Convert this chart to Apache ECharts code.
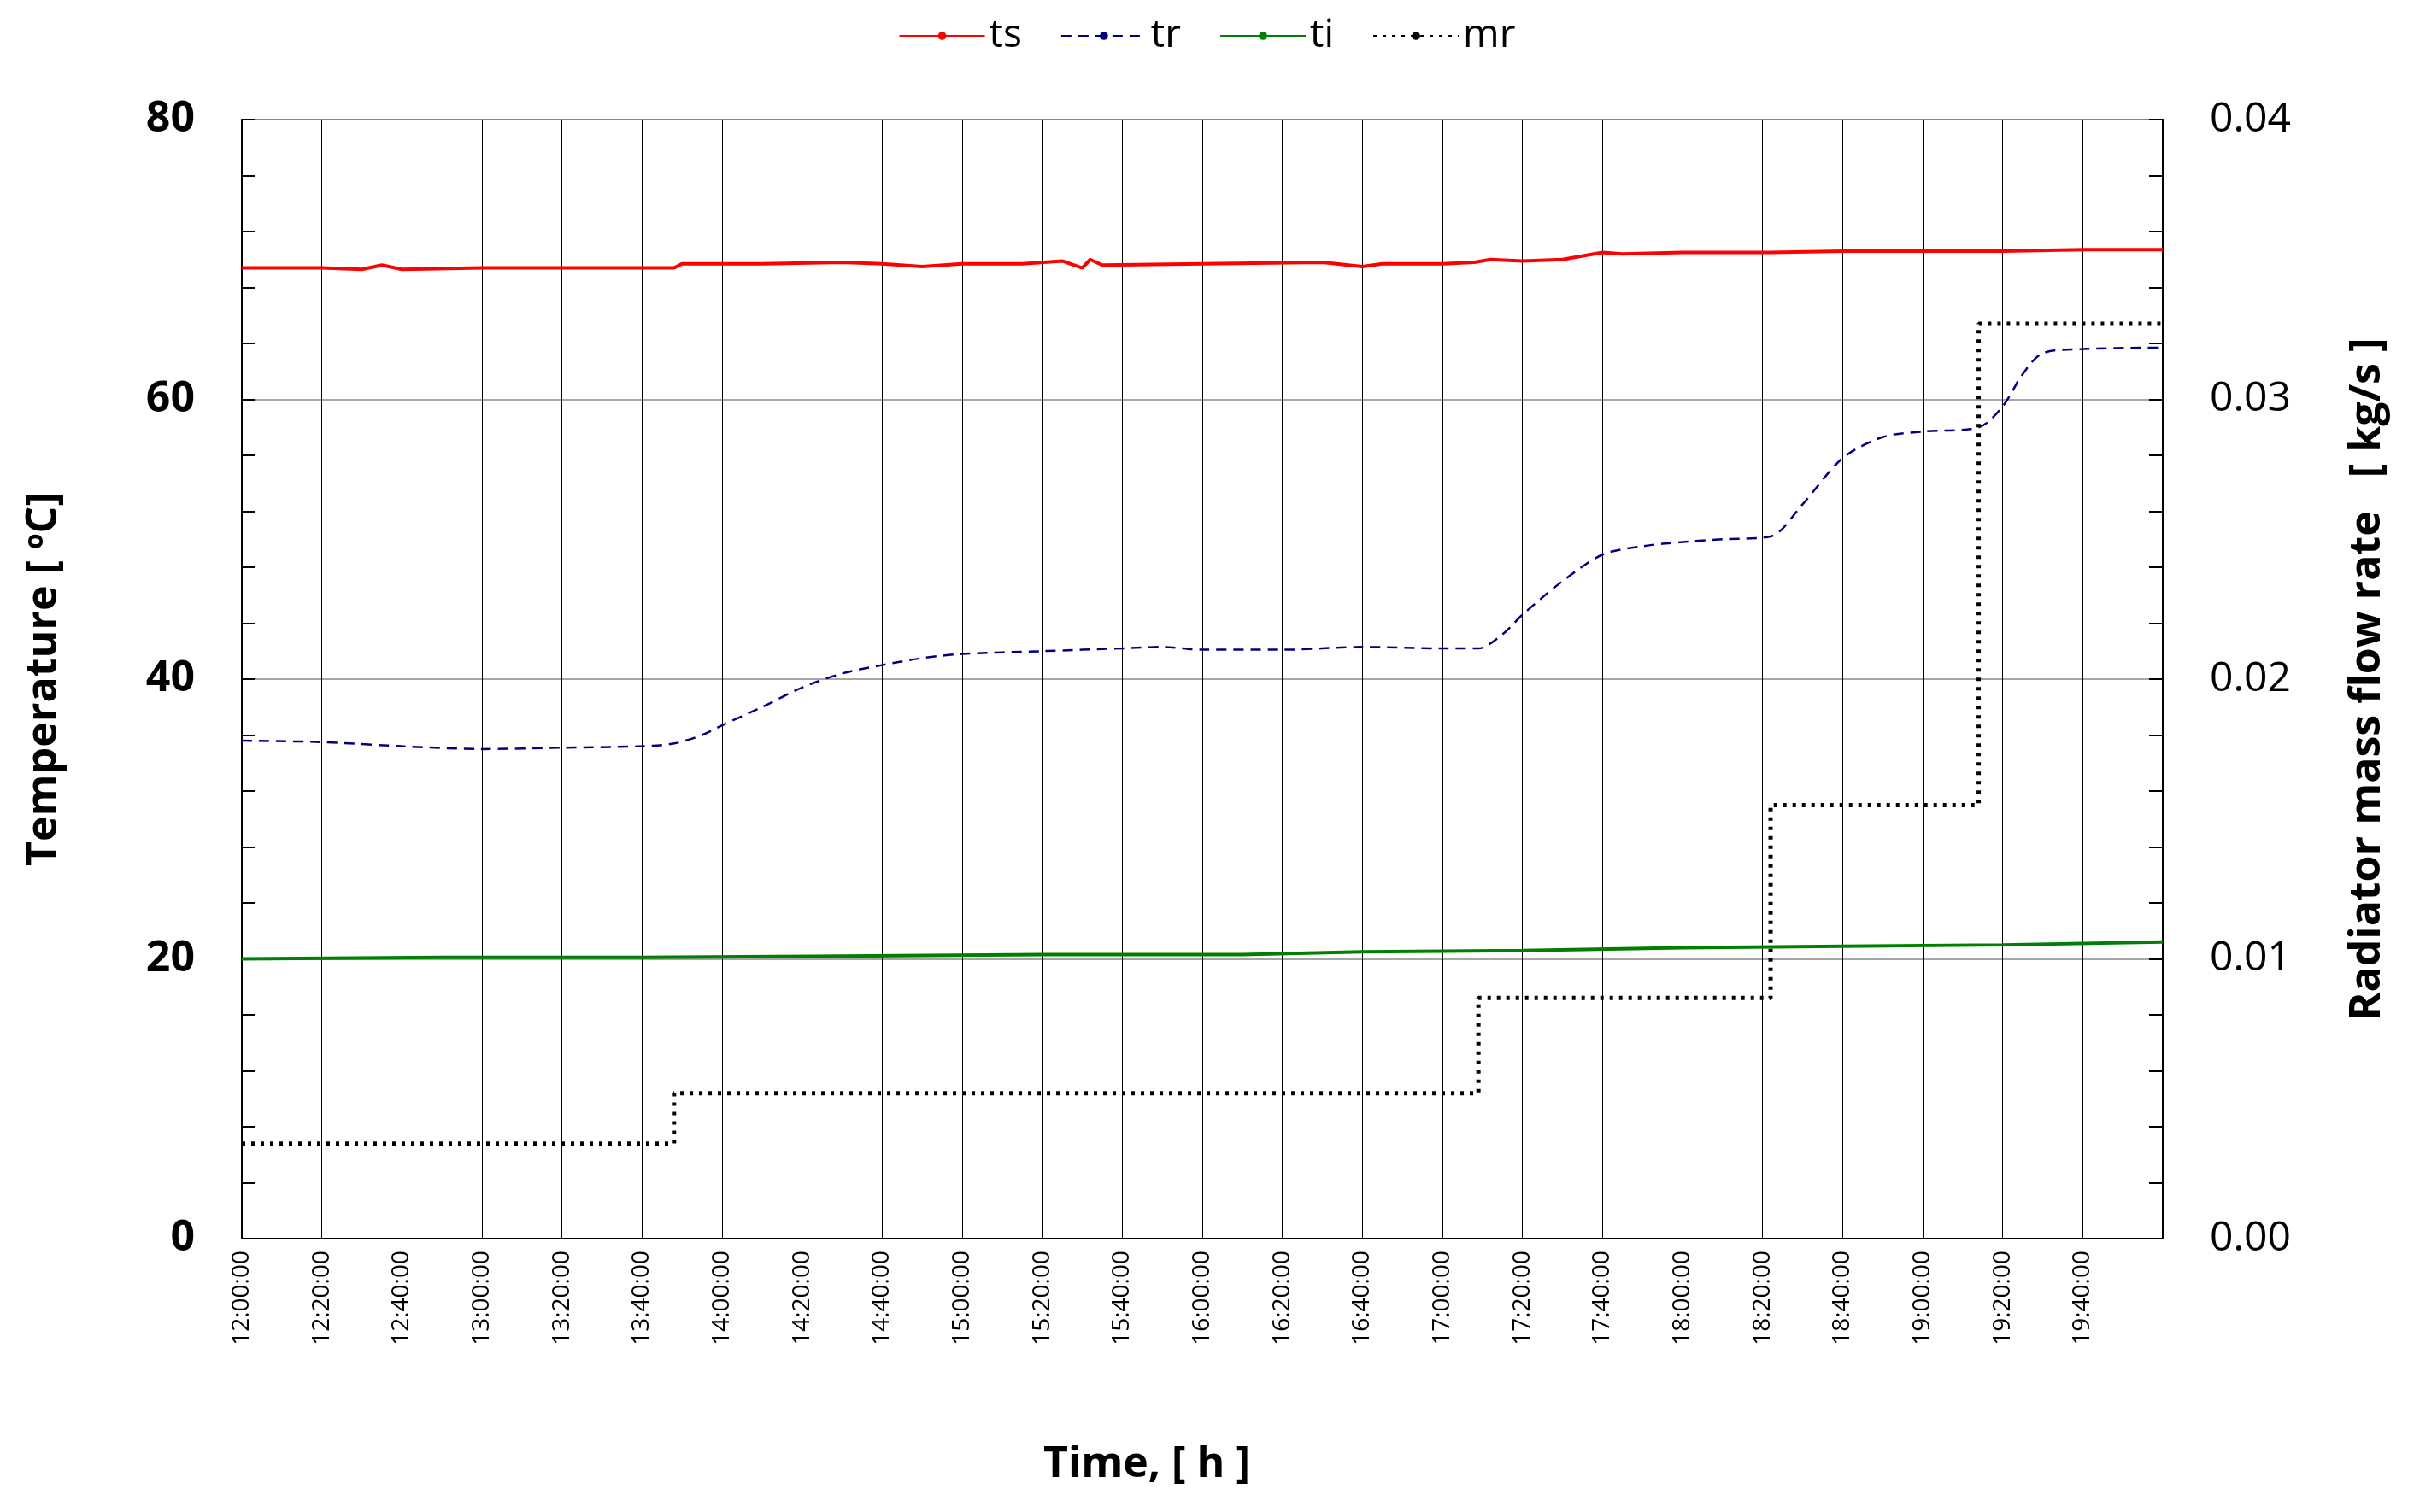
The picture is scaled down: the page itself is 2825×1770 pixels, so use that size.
<!DOCTYPE html>
<html>
<head>
<meta charset="utf-8">
<script src="https://cdn.jsdelivr.net/npm/echarts@6/dist/echarts.min.js"></script>
<style>html,body{margin:0;padding:0;background:#fff}#c{width:2825px;height:1770px}</style>
</head>
<body>
<div id="c"></div>
<script>
// minutes after 12:00
const tsTime = [0, 20, 30, 35, 40, 60, 80, 100, 108, 110, 130, 150, 160, 170, 180, 195, 205, 210, 212, 215, 240, 270, 280, 285, 300, 308, 312, 320, 330, 340, 345, 360, 382, 400, 420, 440, 460, 480];
const tsVals = [69.4, 69.4, 69.3, 69.6, 69.3, 69.4, 69.4, 69.4, 69.4, 69.7, 69.7, 69.8, 69.7, 69.5, 69.7, 69.7, 69.9, 69.4, 70.0, 69.6, 69.7, 69.8, 69.5, 69.7, 69.7, 69.8, 70.0, 69.9, 70.0, 70.5, 70.4, 70.5, 70.5, 70.6, 70.6, 70.6, 70.7, 70.7];
const trTime = [0, 20, 40, 60, 80, 100, 108, 115, 120, 130, 140, 150, 160, 170, 180, 200, 220, 230, 240, 260, 280, 300, 309, 315, 320, 330, 340, 350, 360, 370, 382, 390, 400, 410, 420, 434, 440, 445, 450, 460, 480];
const trVals = [35.6, 35.5, 35.2, 35.0, 35.1, 35.2, 35.4, 36.0, 36.7, 38.0, 39.4, 40.4, 41.0, 41.5, 41.8, 42.0, 42.2, 42.3, 42.1, 42.1, 42.3, 42.2, 42.2, 43.2, 44.6, 47.0, 48.9, 49.5, 49.8, 50.0, 50.2, 52.5, 55.8, 57.3, 57.7, 58.0, 59.5, 61.8, 63.3, 63.6, 63.7];
const tiTime = [0, 50, 100, 150, 200, 250, 280, 320, 360, 400, 440, 480];
const tiVals = [20.0, 20.1, 20.1, 20.2, 20.3, 20.3, 20.5, 20.6, 20.8, 20.9, 21.0, 21.2];
const mrTime = [0, 108, 309, 382, 434, 480];
const mrVals = [0.0034, 0.0052, 0.0086, 0.0155, 0.0327, 0.0327];

const zip = (a, b) => a.map((x, i) => [x, b[i]]);
const fmtTime = v => {
  const m = 12 * 60 + v;
  const h = Math.floor(m / 60), mm = m % 60;
  return h + ':' + String(mm).padStart(2, '0') + ':00';
};
const font = '"Open Sans", "Liberation Sans", sans-serif';

const chart = echarts.init(document.getElementById('c'));
chart.setOption({
  animation: false,
  textStyle: { fontFamily: font },
  legend: {
    top: 14, left: 'center', itemWidth: 100, itemHeight: 12, itemGap: 45,
    textStyle: { fontSize: 46, color: '#000' },
    data: ['ts', 'tr', 'ti', 'mr']
  },
  grid: { left: 283, right: 294, top: 140, bottom: 320, show: true, borderColor: '#777', borderWidth: 2 },
  xAxis: {
    type: 'value', min: 0, max: 480, interval: 20,
    name: 'Time, [ h ]', nameLocation: 'middle', nameGap: 240,
    nameTextStyle: { fontSize: 50, fontWeight: 'bold', color: '#000', padding: [0, 130, 0, 0] },
    axisLine: { lineStyle: { color: '#000', width: 2 } },
    axisTick: { show: false },
    axisLabel: { rotate: 90, fontSize: 28, color: '#000', margin: 14,
      formatter: v => v >= 480 ? '' : fmtTime(v) },
    splitLine: { show: true, lineStyle: { color: '#000', width: 1 } }
  },
  yAxis: [{
    type: 'value', min: 0, max: 80, interval: 20,
    name: 'Temperature [ {s|o}C]', nameLocation: 'middle', nameGap: 205,
    nameTextStyle: { fontSize: 50, fontWeight: 'bold', color: '#000',
      rich: { s: { fontSize: 30, fontWeight: 'bold', verticalAlign: 'top', padding: [0, 0, 22, 0] } } },
    axisLine: { show: true, lineStyle: { color: '#000', width: 2 } },
    axisTick: { show: true, inside: true, length: 16, lineStyle: { color: '#000', width: 2 } },
    minorTick: { show: true, splitNumber: 5, length: 16, lineStyle: { color: '#000', width: 2 } },
    axisLabel: { fontSize: 50, fontWeight: 'bold', color: '#000', margin: 55 },
    splitLine: { show: true, lineStyle: { color: '#888', width: 1.5 } }
  }, {
    type: 'value', min: 0, max: 0.04, interval: 0.01,
    name: 'Radiator mass flow rate   [ kg/s ]', nameLocation: 'middle', nameGap: 215, nameRotate: 90,
    nameTextStyle: { fontSize: 50, fontWeight: 'bold', color: '#000' },
    axisLine: { show: true, lineStyle: { color: '#000', width: 2 } },
    axisTick: { show: true, inside: true, length: 16, lineStyle: { color: '#000', width: 2 } },
    minorTick: { show: true, splitNumber: 5, length: 16, lineStyle: { color: '#000', width: 2 } },
    axisLabel: { fontSize: 48, color: '#000', margin: 55, formatter: v => v.toFixed(2) },
    splitLine: { show: false }
  }],
  series: [
    { name: 'ts', type: 'line', symbol: 'none', data: zip(tsTime, tsVals),
      lineStyle: { color: '#ff0000', width: 4 }, itemStyle: { color: '#ff0000' } },
    { name: 'tr', type: 'line', symbol: 'none', data: zip(trTime, trVals), smooth: 0.3,
      lineStyle: { color: '#000080', width: 2.5, type: [12, 8] }, itemStyle: { color: '#000080' } },
    { name: 'ti', type: 'line', symbol: 'none', data: zip(tiTime, tiVals),
      lineStyle: { color: '#008000', width: 4 }, itemStyle: { color: '#008000' } },
    { name: 'mr', type: 'line', yAxisIndex: 1, step: 'end', symbol: 'none', data: zip(mrTime, mrVals),
      lineStyle: { color: '#000', width: 5, type: [4, 7] }, itemStyle: { color: '#000' } }
  ]
});
</script>
</body>
</html>
